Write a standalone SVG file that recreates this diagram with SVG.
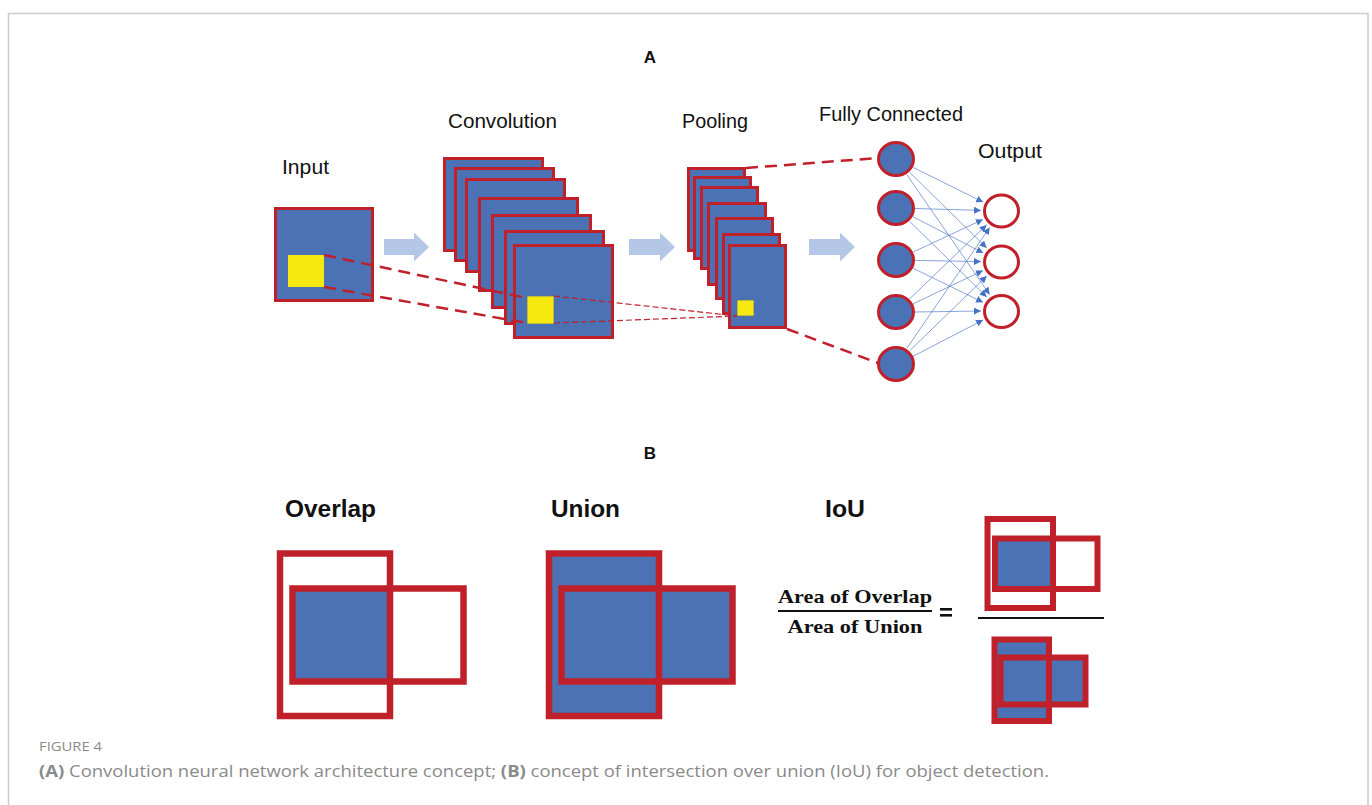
<svg xmlns="http://www.w3.org/2000/svg" width="1372" height="805" viewBox="0 0 1372 805">
<defs>
<style>
.lbl{font-family:"Liberation Sans",Arial,sans-serif;font-size:20px;fill:#111}
.blbl{font-family:"Liberation Sans",Arial,sans-serif;font-size:23px;font-weight:bold;fill:#111}
.pl{font-family:"Liberation Sans",Arial,sans-serif;font-size:17px;font-weight:bold;fill:#111;text-anchor:middle}
.frac{font-family:"Liberation Serif","Times New Roman",serif;font-size:19px;font-weight:bold;fill:#111;text-anchor:middle}
.cap{font-family:"Open Sans",Lato,sans-serif;fill:#8a8a8a}
.map{fill:#4a72b5;stroke:#c0202a;stroke-width:3}
.yel{fill:#f5e90f;stroke:#5b6f8f;stroke-width:0.75}
.blk{fill:#b4c7e7}
.fc{fill:#4a72b5;stroke:#c0202a;stroke-width:3}
.out{fill:#fff;stroke:#c0202a;stroke-width:3}
.dash{stroke:#c0202a;stroke-width:2.5;stroke-dasharray:12 7;fill:none}
.tdash{stroke:#c0202a;stroke-width:1.2;stroke-dasharray:6 3;fill:none}
.edge{stroke:#4472c4;stroke-width:0.8;stroke-opacity:0.8;fill:none;marker-end:url(#ah)}
.box{fill:none;stroke:#c0202a;stroke-width:6.5}
.sbox{fill:none;stroke:#c0202a;stroke-width:6}
.bf{fill:#4a72b5}
</style>
<marker id="ah" viewBox="0 0 10 10" refX="10" refY="5" markerWidth="7" markerHeight="7" markerUnits="userSpaceOnUse" orient="auto">
<path d="M0,0 L10,5 L0,10 z" fill="#4472c4"/>
</marker>
</defs>
<rect x="0" y="0" width="1372" height="805" fill="#fff"/>
<path d="M8.5,805 V13.5 H1368 V805" fill="none" stroke="#cccccc" stroke-width="1.5"/>

<text class="pl" x="650" y="63">A</text>
<text class="pl" x="650" y="459">B</text>

<g id="input">
<text class="lbl" x="282" y="174" textLength="47" lengthAdjust="spacingAndGlyphs">Input</text>
<rect class="map" x="275.5" y="208.5" width="97" height="92"/>
<rect x="288" y="255" width="36" height="32" fill="#f5e90f"/>
</g>

<g id="arrow1"><polygon class="blk" points="384,239 414,239 414,232.5 429,247 414,261.5 414,255 384,255"/></g>

<g id="convolution">
<text class="lbl" x="448" y="128" textLength="109" lengthAdjust="spacingAndGlyphs">Convolution</text>
<rect class="map" x="444.5" y="158.5" width="98" height="92"/>
<rect class="map" x="455.5" y="168.5" width="98" height="92"/>
<rect class="map" x="466.5" y="179.5" width="98" height="92"/>
<rect class="map" x="479.5" y="198.5" width="98" height="92"/>
<rect class="map" x="492.5" y="215.5" width="98" height="92"/>
<rect class="map" x="505.5" y="231.5" width="98" height="92"/>
<rect class="map" x="514.5" y="245.5" width="98" height="92"/>
<rect class="yel" x="527" y="296" width="27" height="28"/>
</g>

<g id="arrow2"><polygon class="blk" points="629,239 660,239 660,232.5 675,247 660,261.5 660,255 629,255"/></g>

<g id="pooling">
<text class="lbl" x="682" y="128" textLength="66" lengthAdjust="spacingAndGlyphs">Pooling</text>
<rect class="map" x="688.5" y="168.5" width="56" height="82"/>
<rect class="map" x="694.5" y="177.5" width="56" height="81"/>
<rect class="map" x="701.5" y="187.5" width="56" height="81"/>
<rect class="map" x="708.5" y="203.5" width="57" height="81"/>
<rect class="map" x="716.5" y="218.5" width="56" height="80"/>
<rect class="map" x="723.5" y="234.5" width="56" height="79"/>
<rect class="map" x="729.5" y="245.5" width="56" height="82"/>
<rect class="yel" x="737" y="300" width="17" height="16"/>
</g>

<g id="arrow3"><polygon class="blk" points="809,239 840,239 840,232.5 855,247 840,261.5 840,255 809,255"/></g>

<g id="fully-connected">
<text class="lbl" x="819" y="121" textLength="144" lengthAdjust="spacingAndGlyphs">Fully Connected</text>
<ellipse class="fc" cx="896" cy="159" rx="17.5" ry="16.5"/>
<ellipse class="fc" cx="896" cy="208" rx="17.5" ry="16.5"/>
<ellipse class="fc" cx="896" cy="260" rx="17.5" ry="16.5"/>
<ellipse class="fc" cx="896" cy="312" rx="17.5" ry="16.5"/>
<ellipse class="fc" cx="896" cy="364" rx="17.5" ry="16.5"/>
</g>

<g id="output">
<text class="lbl" x="978" y="158" textLength="64" lengthAdjust="spacingAndGlyphs">Output</text>
<ellipse class="out" cx="1001.5" cy="211" rx="17" ry="16"/>
<ellipse class="out" cx="1001.5" cy="262" rx="17" ry="16"/>
<ellipse class="out" cx="1001.5" cy="311.5" rx="17" ry="16"/>
</g>

<g id="connectors">
<line class="dash" x1="324" y1="255" x2="527" y2="298"/>
<line class="dash" x1="324" y1="287" x2="527" y2="323"/>
<line class="tdash" x1="554" y1="296" x2="737" y2="316"/>
<line class="tdash" x1="554" y1="323" x2="737" y2="316"/>
<line class="dash" x1="746" y1="168" x2="878" y2="158"/>
<line class="dash" x1="787" y1="329" x2="878" y2="363"/>
<line class="edge" x1="913" y1="167.4" x2="983.1" y2="202.1"/>
<line class="edge" x1="909.6" y1="172.3" x2="986.7" y2="248"/>
<line class="edge" x1="906.8" y1="174.6" x2="989.6" y2="294.5"/>
<line class="edge" x1="915" y1="208.5" x2="981" y2="210.4"/>
<line class="edge" x1="912.9" y1="216.7" x2="983.2" y2="252.9"/>
<line class="edge" x1="909.6" y1="221.3" x2="986.7" y2="297"/>
<line class="edge" x1="913.2" y1="252" x2="982.9" y2="219.5"/>
<line class="edge" x1="915" y1="260.4" x2="981" y2="261.6"/>
<line class="edge" x1="913.1" y1="268.3" x2="983" y2="302.3"/>
<line class="edge" x1="909.7" y1="298.8" x2="986.6" y2="224.9"/>
<line class="edge" x1="913.2" y1="303.8" x2="982.9" y2="270.6"/>
<line class="edge" x1="915" y1="312" x2="981" y2="311"/>
<line class="edge" x1="906.8" y1="348.3" x2="989.7" y2="227.5"/>
<line class="edge" x1="909.6" y1="350.8" x2="986.7" y2="276"/>
<line class="edge" x1="913" y1="356.3" x2="983.1" y2="320"/>
</g>

<g id="overlap">
<text class="blbl" x="285" y="517" textLength="91" lengthAdjust="spacingAndGlyphs">Overlap</text>
<rect class="bf" x="292.5" y="588.5" width="97.5" height="93"/>
<rect class="box" x="280" y="553.5" width="110" height="162.5"/>
<rect class="box" x="292.5" y="588.5" width="171" height="93"/>
</g>

<g id="union">
<text class="blbl" x="551" y="517" textLength="69" lengthAdjust="spacingAndGlyphs">Union</text>
<rect class="bf" x="549" y="553.5" width="110" height="162.5"/>
<rect class="bf" x="561.5" y="588.5" width="171" height="93"/>
<rect class="box" x="549" y="553.5" width="110" height="162.5"/>
<rect class="box" x="561.5" y="588.5" width="171" height="93"/>
</g>

<g id="iou">
<text class="blbl" x="825" y="517" textLength="40" lengthAdjust="spacingAndGlyphs">IoU</text>
<text class="frac" x="855" y="603" textLength="154" lengthAdjust="spacingAndGlyphs">Area of Overlap</text>
<line x1="778" y1="611" x2="932" y2="611" stroke="#111" stroke-width="1.8"/>
<text class="frac" x="855" y="633" textLength="135" lengthAdjust="spacingAndGlyphs">Area of Union</text>
<rect x="940" y="608" width="12" height="2.6" fill="#111"/>
<rect x="940" y="614" width="12" height="2.6" fill="#111"/>
<line x1="978" y1="618" x2="1104" y2="618" stroke="#111" stroke-width="2"/>
<rect class="bf" x="995" y="538.5" width="58" height="50.5"/>
<rect class="sbox" x="987.5" y="519" width="65.5" height="89"/>
<rect class="sbox" x="995" y="538.5" width="102.5" height="50.5"/>
<rect class="bf" x="994.5" y="639.5" width="54.5" height="81.5"/>
<rect class="bf" x="1000.5" y="657.5" width="85" height="47"/>
<rect class="sbox" x="994.5" y="639.5" width="54.5" height="81.5"/>
<rect class="sbox" x="1000.5" y="657.5" width="85" height="47"/>
</g>

<g id="caption">
<text class="cap" x="39" y="751" font-size="12.5" textLength="63" lengthAdjust="spacingAndGlyphs">FIGURE 4</text>
<text class="cap" x="39" y="777" font-size="16.5" textLength="1010" lengthAdjust="spacingAndGlyphs"><tspan font-weight="bold">(A)</tspan> Convolution neural network architecture concept; <tspan font-weight="bold">(B)</tspan> concept of intersection over union (IoU) for object detection.</text>
</g>
</svg>
